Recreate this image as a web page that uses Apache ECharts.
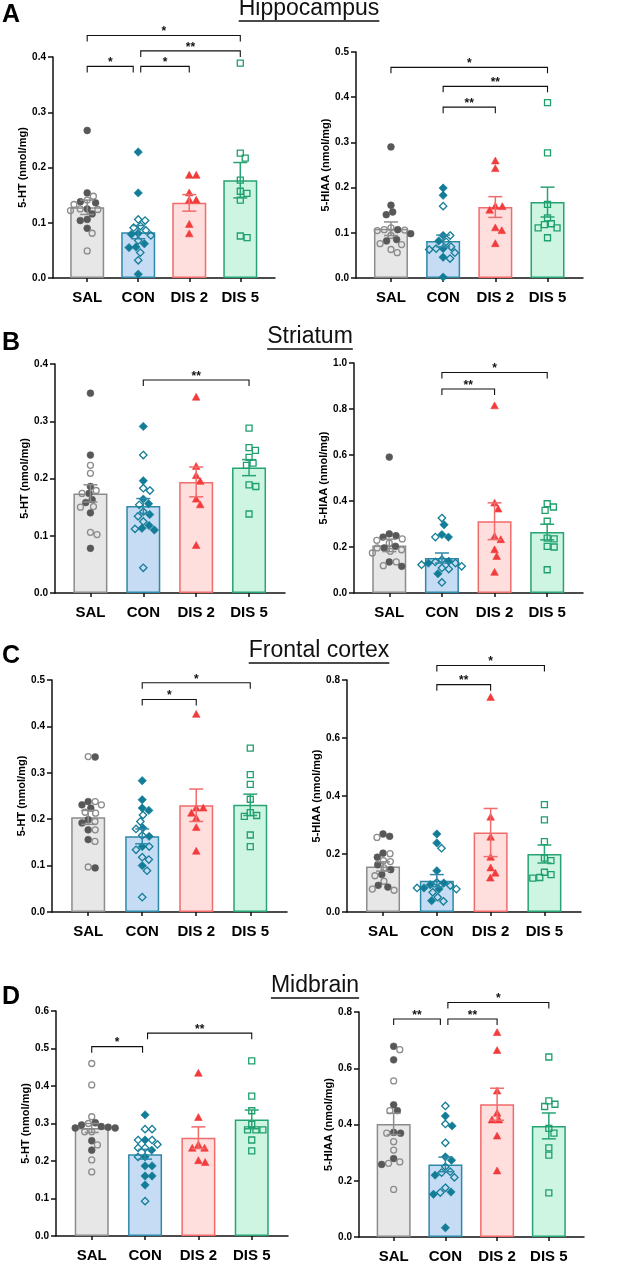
<!DOCTYPE html>
<html>
<head>
<meta charset="utf-8">
<script src="https://cdn.jsdelivr.net/npm/echarts@6/dist/echarts.min.js"></script>
<style>
    html, body { margin: 0; padding: 0; background: #fff; }
    #main { width: 618px; height: 1275px; }
</style>
</head>
<body>
<div id="main"></div>
<script>
var groups = ['SAL', 'CON', 'DIS 2', 'DIS 5'];
var regions = ['Hippocampus', 'Striatum', 'Frontal cortex', 'Midbrain'];
var letters = ['A', 'B', 'C', 'D'];
var measures = ['5-HT (nmol/mg)', '5-HIAA (nmol/mg)'];

// hippocampus 5-HT
var hipHtMean = [0.128, 0.083, 0.136, 0.177];
var hipHtSem = [0.013, 0.012, 0.015, 0.032];
var hipHtFilled = [[0.267, 0.154, 0.138, 0.136, 0.125, 0.116, 0.106, 0.104, 0.090],
    [0.228, 0.154, 0.081, 0.079, 0.062, 0.056, 0.055, 0.007],
    [0.186, 0.186, 0.154, 0.141, 0.141, 0.097, 0.080], []];
var hipHtOpen = [[0.148, 0.141, 0.133, 0.125, 0.124, 0.122, 0.081, 0.049],
    [0.106, 0.104, 0.094, 0.091, 0.086, 0.077, 0.068, 0.046, 0.032], [],
    [0.389, 0.226, 0.217, 0.177, 0.157, 0.153, 0.141, 0.076, 0.073]];
var hipHtSig = [[0, 3, 0.439, '*'], [1, 3, 0.411, '**'], [0, 1, 0.383, '*'], [1, 2, 0.383, '*']];

// hippocampus 5-HIAA
var hipHiaaMean = [0.109, 0.082, 0.157, 0.168];
var hipHiaaSem = [0.015, 0.013, 0.023, 0.033];
var hipHiaaFilled = [[0.290, 0.161, 0.146, 0.140, 0.107, 0.098, 0.085, 0.082],
    [0.199, 0.183, 0.094, 0.082, 0.065, 0.046, 0.002],
    [0.259, 0.242, 0.159, 0.158, 0.150, 0.111, 0.105, 0.076], []];
var hipHiaaOpen = [[0.111, 0.107, 0.106, 0.105, 0.094, 0.076, 0.074, 0.063, 0.056],
    [0.159, 0.094, 0.080, 0.069, 0.065, 0.063, 0.056, 0.043], [],
    [0.388, 0.277, 0.163, 0.133, 0.120, 0.118, 0.111, 0.111, 0.089]];
var hipHiaaSig = [[0, 3, 0.466, '*'], [1, 3, 0.424, '**'], [1, 2, 0.378, '**']];

// striatum 5-HT
var strHtMean = [0.174, 0.152, 0.194, 0.219];
var strHtSem = [0.015, 0.013, 0.026, 0.014];
var strHtFilled = [[0.349, 0.241, 0.186, 0.174, 0.163, 0.158, 0.140, 0.078],
    [0.291, 0.196, 0.164, 0.156, 0.137, 0.118, 0.113, 0.110],
    [0.342, 0.221, 0.205, 0.195, 0.164, 0.154, 0.083], []];
var strHtOpen = [[0.223, 0.209, 0.179, 0.174, 0.151, 0.150, 0.106, 0.102],
    [0.241, 0.183, 0.179, 0.154, 0.142, 0.134, 0.125, 0.112, 0.044], [],
    [0.288, 0.254, 0.249, 0.237, 0.227, 0.223, 0.189, 0.186, 0.138]];
var strHtSig = [[1, 3, 0.372, '**']];

// striatum 5-HIAA
var strHiaaMean = [0.207, 0.152, 0.312, 0.265];
var strHiaaSem = [0.027, 0.022, 0.080, 0.034];
var strHiaaFilled = [[0.591, 0.257, 0.249, 0.243, 0.203, 0.196, 0.135, 0.116],
    [0.297, 0.254, 0.243, 0.138, 0.130, 0.084],
    [0.814, 0.391, 0.365, 0.246, 0.232, 0.188, 0.159, 0.090], []];
var strHiaaOpen = [[0.235, 0.229, 0.217, 0.196, 0.188, 0.181, 0.174, 0.135, 0.119],
    [0.326, 0.243, 0.145, 0.135, 0.130, 0.123, 0.116, 0.109, 0.104, 0.046], [],
    [0.388, 0.374, 0.359, 0.312, 0.239, 0.235, 0.203, 0.200, 0.101]];
var strHiaaSig = [[1, 3, 0.959, '*'], [1, 2, 0.887, '**']];

// frontal cortex 5-HT
var frcHtMean = [0.204, 0.163, 0.230, 0.231];
var frcHtSem = [0.015, 0.016, 0.035, 0.023];
var frcHtFilled = [[0.334, 0.238, 0.231, 0.224, 0.199, 0.192, 0.177, 0.156, 0.095],
    [0.283, 0.242, 0.224, 0.219, 0.181, 0.163, 0.141, 0.100],
    [0.426, 0.224, 0.224, 0.213, 0.202, 0.182, 0.131], []];
var frcHtOpen = [[0.335, 0.238, 0.231, 0.215, 0.213, 0.195, 0.177, 0.152, 0.097],
    [0.209, 0.195, 0.179, 0.165, 0.141, 0.134, 0.118, 0.113, 0.089, 0.032], [],
    [0.353, 0.296, 0.275, 0.243, 0.214, 0.208, 0.206, 0.166, 0.141]];
var frcHtSig = [[1, 3, 0.494, '*'], [1, 2, 0.458, '*']];

// frontal cortex 5-HIAA
var frcHiaaMean = [0.157, 0.108, 0.274, 0.200];
var frcHiaaSem = [0.016, 0.021, 0.083, 0.031];
var frcHiaaFilled = [[0.269, 0.261, 0.203, 0.189, 0.163, 0.146, 0.129, 0.092, 0.086],
    [0.269, 0.238, 0.142, 0.100, 0.094, 0.083, 0.079, 0.039],
    [0.740, 0.327, 0.258, 0.189, 0.152, 0.134, 0.117], []];
var frcHiaaOpen = [[0.257, 0.201, 0.177, 0.174, 0.152, 0.125, 0.106, 0.079, 0.075],
    [0.220, 0.102, 0.091, 0.083, 0.079, 0.068, 0.051, 0.037], [],
    [0.370, 0.318, 0.243, 0.186, 0.177, 0.137, 0.129, 0.119, 0.117]];
var frcHiaaSig = [[1, 3, 0.850, '*'], [1, 2, 0.784, '**']];

// midbrain 5-HT
var midHtMean = [0.288, 0.218, 0.262, 0.311];
var midHtSem = [0.012, 0.013, 0.029, 0.025];
var midHtFilled = [[0.302, 0.296, 0.292, 0.290, 0.288, 0.288, 0.254, 0.229],
    [0.323, 0.256, 0.229, 0.211, 0.187, 0.187, 0.160, 0.160, 0.136],
    [0.434, 0.316, 0.243, 0.234, 0.234, 0.201, 0.196], []];
var midHtOpen = [[0.460, 0.403, 0.318, 0.300, 0.278, 0.278, 0.243, 0.203, 0.171],
    [0.285, 0.285, 0.256, 0.256, 0.244, 0.235, 0.235, 0.211, 0.093], [],
    [0.467, 0.373, 0.334, 0.298, 0.283, 0.283, 0.283, 0.256, 0.227]];
var midHtSig = [[0, 1, 0.505, '*'], [1, 3, 0.541, '**']];

// midbrain 5-HIAA
var midHiaaMean = [0.402, 0.258, 0.472, 0.395];
var midHiaaSem = [0.038, 0.026, 0.057, 0.046];
var midHiaaFilled = [[0.678, 0.630, 0.470, 0.449, 0.372, 0.369, 0.279, 0.258],
    [0.430, 0.395, 0.285, 0.273, 0.220, 0.160, 0.152, 0.033],
    [0.727, 0.663, 0.519, 0.440, 0.416, 0.416, 0.359, 0.235], []];
var midHiaaOpen = [[0.666, 0.555, 0.449, 0.369, 0.339, 0.309, 0.267, 0.262, 0.169],
    [0.466, 0.402, 0.335, 0.250, 0.232, 0.229, 0.212, 0.175, 0.158], [],
    [0.640, 0.484, 0.472, 0.464, 0.386, 0.369, 0.317, 0.291, 0.157]];
var midHiaaSig = [[0, 1, 0.775, '**'], [1, 2, 0.775, '**'], [1, 3, 0.834, '*']];

var panels = [
    [hipHtMean, hipHtSem, hipHtFilled, hipHtOpen, hipHtSig],
    [hipHiaaMean, hipHiaaSem, hipHiaaFilled, hipHiaaOpen, hipHiaaSig],
    [strHtMean, strHtSem, strHtFilled, strHtOpen, strHtSig],
    [strHiaaMean, strHiaaSem, strHiaaFilled, strHiaaOpen, strHiaaSig],
    [frcHtMean, frcHtSem, frcHtFilled, frcHtOpen, frcHtSig],
    [frcHiaaMean, frcHiaaSem, frcHiaaFilled, frcHiaaOpen, frcHiaaSig],
    [midHtMean, midHtSem, midHtFilled, midHtOpen, midHtSig],
    [midHiaaMean, midHiaaSem, midHiaaFilled, midHiaaOpen, midHiaaSig]
];

// grid left, top, width, height, y max, y interval
var layout = [
    [53, 57, 222, 221, 0.4, 0.1],
    [356, 52, 227, 226, 0.5, 0.1],
    [55, 364, 230, 229, 0.4, 0.1],
    [354, 363, 229, 230, 1.0, 0.2],
    [52, 680, 235, 232, 0.5, 0.1],
    [347, 680, 234, 232, 0.8, 0.2],
    [56, 1011, 232, 225, 0.6, 0.1],
    [359, 1012, 225, 225, 0.8, 0.2]
];
// title centre x, baseline y ; letter cap-middle y
var titlePos = [[309, 17], [310, 345], [319, 659], [315, 994]];
var letterY = [15, 343, 656, 997];

var FONT = '"Liberation Sans", Arial, Helvetica, sans-serif';
var barFill = ['#e7e7e7', '#c6dbf4', '#ffdede', '#cdf5e2'];
var barLine = ['#8c8c8c', '#2d89a8', '#f26b6b', '#27a473'];
var dotColor = ['#585858', '#137d97', '#f23c3c', '#1f9f6c'];
var openColor = ['#8c8c8c', '#137d97', '#f23c3c', '#1f9f6c'];

var chart = echarts.init(document.getElementById('main'));

function marker(g, cx, cy, filled) {
    var col = filled ? dotColor[g] : openColor[g];
    var style = filled ? { fill: col, stroke: col, lineWidth: 0.6 } : { fill: 'none', stroke: col, lineWidth: 1.3 };
    if (g === 0) {
        return { type: 'circle', shape: { cx: cx, cy: cy, r: filled ? 3.4 : 3.0 }, style: style };
    }
    if (g === 1) {
        var r = filled ? 4.2 : 3.7;
        return { type: 'polygon', shape: { points: [[cx, cy - r], [cx + r, cy], [cx, cy + r], [cx - r, cy]] }, style: style };
    }
    if (g === 2) {
        return { type: 'polygon', shape: { points: [[cx, cy - 3.9], [cx + 3.8, cy + 3], [cx - 3.8, cy + 3]] }, style: style };
    }
    return { type: 'rect', shape: { x: cx - 3, y: cy - 3, width: 6, height: 6 }, style: style };
}

// spread points sideways so they do not overlap
function swarm(pts, dmin) {
    var placed = [];
    pts.forEach(function (p) {
        var cands = [0];
        placed.forEach(function (q) {
            var dy = p.y - q.y;
            if (Math.abs(dy) < dmin) {
                var w = Math.sqrt(dmin * dmin - dy * dy);
                cands.push(q.dx + w, q.dx - w);
            }
        });
        cands.sort(function (a, b) { return Math.abs(a) - Math.abs(b); });
        for (var k = 0; k < cands.length; k++) {
            var ok = true;
            for (var m = 0; m < placed.length; m++) {
                var ddx = cands[k] - placed[m].dx, ddy = p.y - placed[m].y;
                if (ddx * ddx + ddy * ddy < dmin * dmin - 0.01) { ok = false; break; }
            }
            if (ok) { p.dx = cands[k]; break; }
        }
        placed.push(p);
    });
}

var grids = [], xAxes = [], yAxes = [], series = [];

panels.forEach(function (pn, i) {
    var lay = layout[i];
    var mean = pn[0], sem = pn[1], filled = pn[2], open = pn[3], sig = pn[4];
    grids.push({ left: lay[0], top: lay[1], width: lay[2], height: lay[3] });
    xAxes.push({
        gridIndex: i, type: 'value', min: -0.67, max: 3.68,
        splitLine: { show: false },
        axisLine: { lineStyle: { color: '#111', width: 1.5 } },
        axisTick: { customValues: [0, 1, 2, 3], length: 4, lineStyle: { color: '#111', width: 1.5 } },
        axisLabel: {
            customValues: [0, 1, 2, 3], margin: 12,
            formatter: function (v) { return groups[v]; },
            color: '#000', fontWeight: 'bold', fontSize: 15, fontFamily: FONT
        }
    });
    yAxes.push({
        gridIndex: i, type: 'value', min: 0, max: lay[4], interval: lay[5],
        name: measures[i % 2], nameLocation: 'middle', nameGap: 23,
        nameTextStyle: { color: '#000', fontWeight: 'bold', fontSize: 11, fontFamily: FONT },
        splitLine: { show: false },
        axisLine: { show: true, onZero: false, lineStyle: { color: '#111', width: 1.5 } },
        axisTick: { show: true, length: 5, lineStyle: { color: '#111', width: 1.5 } },
        axisLabel: {
            margin: 7, color: '#000', fontWeight: 'bold', fontSize: 10, fontFamily: FONT,
            formatter: function (v) { return v.toFixed(1); }
        }
    });

    series.push({
        type: 'bar', xAxisIndex: i, yAxisIndex: i, barWidth: 34, z: 2,
        silent: true,
        data: mean.map(function (m, j) {
            return { value: [j, m], itemStyle: { color: barFill[j], borderColor: barLine[j], borderWidth: 1.5 } };
        })
    });

    series.push({
        type: 'custom', xAxisIndex: i, yAxisIndex: i, z: 3, silent: true,
        data: mean.map(function (m, j) { return [j, m]; }),
        renderItem: function (params, api) {
            var j = api.value(0);
            var pts = [];
            filled[j].forEach(function (v) {
                var c = api.coord([j, v]);
                pts.push({ x: c[0], y: c[1], dx: 0, f: true });
            });
            open[j].forEach(function (v) {
                var c = api.coord([j, v]);
                pts.push({ x: c[0], y: c[1], dx: 0, f: false });
            });
            pts.sort(function (a, b) { return a.y - b.y; });
            swarm(pts, 7);
            return {
                type: 'group',
                children: pts.map(function (p) { return marker(j, p.x + p.dx, p.y, p.f); })
            };
        }
    });

    series.push({
        type: 'custom', xAxisIndex: i, yAxisIndex: i, z: 4, silent: true,
        data: mean.map(function (m, j) { return [j, m, sem[j]]; }),
        renderItem: function (params, api) {
            var j = api.value(0), m = api.value(1), s = api.value(2);
            var hi = api.coord([j, m + s]), lo = api.coord([j, m - s]);
            var style = { stroke: barLine[j], lineWidth: 1.5 };
            return {
                type: 'group',
                children: [
                    { type: 'line', shape: { x1: hi[0], y1: hi[1], x2: lo[0], y2: lo[1] }, style: style },
                    { type: 'line', shape: { x1: hi[0] - 7, y1: hi[1], x2: hi[0] + 7, y2: hi[1] }, style: style },
                    { type: 'line', shape: { x1: lo[0] - 7, y1: lo[1], x2: lo[0] + 7, y2: lo[1] }, style: style }
                ]
            };
        }
    });

    series.push({
        type: 'custom', xAxisIndex: i, yAxisIndex: i, z: 5, silent: true, clip: false,
        data: sig.map(function (b) { return [b[0], b[1], b[2]]; }),
        encode: { x: [0, 1], y: 2 },
        renderItem: function (params, api) {
            var b = sig[params.dataIndex];
            var p1 = api.coord([b[0], b[2]]), p2 = api.coord([b[1], b[2]]);
            var x1 = p1[0], x2 = p2[0], y = p1[1];
            sig.forEach(function (o) {
                if (o !== b && o[1] === b[0]) { x1 += 2.5; }
                if (o !== b && o[0] === b[1]) { x2 -= 2.5; }
            });
            return {
                type: 'group',
                children: [
                    { type: 'polyline', shape: { points: [[x1, y + 6], [x1, y], [x2, y], [x2, y + 6]] },
                      style: { stroke: '#111', lineWidth: 1.1, fill: 'none' } },
                    { type: 'text', x: (x1 + x2) / 2, y: y - 3.5,
                      style: { text: b[3], align: 'center', verticalAlign: 'middle', fill: '#111',
                               font: 'bold 12px ' + FONT } }
                ]
            };
        }
    });
});

var measureCtx = document.createElement('canvas').getContext('2d');
var graphics = [];
regions.forEach(function (name, k) {
    var font = '23px ' + FONT;
    measureCtx.font = font;
    var w = measureCtx.measureText(name).width;
    var cx = titlePos[k][0], base = titlePos[k][1];
    graphics.push({
        type: 'text', x: cx, y: base - 8,
        style: { text: name, align: 'center', verticalAlign: 'middle', fill: '#111', font: font }
    });
    graphics.push({
        type: 'line', shape: { x1: cx - w / 2, y1: base + 4, x2: cx + w / 2, y2: base + 4 },
        style: { stroke: '#111', lineWidth: 1.5 }
    });
    graphics.push({
        type: 'text', x: 11, y: letterY[k],
        style: { text: letters[k], align: 'center', verticalAlign: 'middle', fill: '#000',
                 font: 'bold 25px ' + FONT }
    });
});

chart.setOption({
    animation: false,
    grid: grids,
    xAxis: xAxes,
    yAxis: yAxes,
    series: series,
    graphic: graphics
});
</script>
</body>
</html>
